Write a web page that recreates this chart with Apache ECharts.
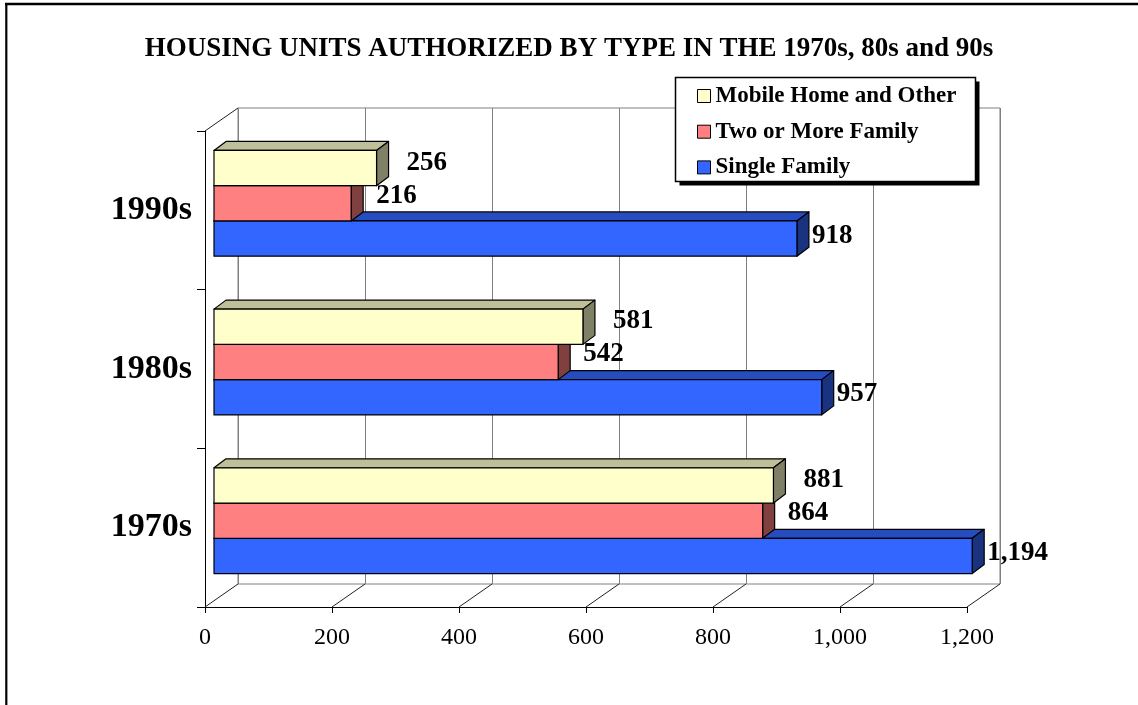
<!DOCTYPE html>
<html>
<head>
<meta charset="utf-8">
<title>Housing Units Authorized by Type</title>
<script src="https://cdn.jsdelivr.net/npm/echarts@6/dist/echarts.min.js"></script>
<style>
  html, body { margin: 0; padding: 0; background: #fff; }
  #main { width: 1138px; height: 705px; }
</style>
</head>
<body>
<div id="main"></div>
<script>
// Housing units authorized, by decade and type
const decades = ['1970s', '1980s', '1990s'];
const singleFamily = [1194, 957, 918];
const twoOrMoreFamily = [864, 542, 216];
const mobileHomeOther = [881, 581, 256];
const xTicks = [0, 200, 400, 600, 800, 1000, 1200];
const legendOrder = ['Mobile Home and Other', 'Two or More Family', 'Single Family'];

const SERIF = '"Liberation Serif", "Times New Roman", serif';
const WALL_DEPTH = [33, -23];   // offset from front plane to back wall
const BAR_SHIFT = [9, -7];      // bars sit slightly inside the box
const BAR_DEPTH = [12, -9];     // thickness of each 3D bar

function shade(hex, k) {
  const n = parseInt(hex.slice(1), 16);
  const r = Math.round(((n >> 16) & 255) * k);
  const g = Math.round(((n >> 8) & 255) * k);
  const b = Math.round((n & 255) * k);
  return 'rgb(' + r + ',' + g + ',' + b + ')';
}

// One 3D bar series: front face, top face, side face and value label
function barSeries(name, values, slot, color, label) {
  return {
    type: 'custom',
    name: name,
    coordinateSystem: 'cartesian2d',
    xAxisIndex: 0,
    yAxisIndex: 0,
    itemStyle: { color: color, borderColor: '#000', borderWidth: 1 },
    data: values.map((v, i) => [v, i]),
    renderItem: function (params, api) {
      const v = api.value(0);
      const ci = api.value(1);
      const p0 = api.coord([0, ci]);
      const p1 = api.coord([v, ci]);
      const band = api.size([0, 1])[1];
      const h = band * 0.2222;
      const cy = p0[1] + BAR_SHIFT[1] + slot * h;
      const x0 = p0[0] + BAR_SHIFT[0];
      const x1 = p1[0] + BAR_SHIFT[0];
      const t = cy - h / 2, b = cy + h / 2;
      const dx = BAR_DEPTH[0], dy = BAR_DEPTH[1];
      const edge = { stroke: '#000', lineWidth: 1.2, lineJoin: 'round' };
      return {
        type: 'group',
        children: [
          { type: 'polygon',
            shape: { points: [[x0, t], [x0 + dx, t + dy], [x1 + dx, t + dy], [x1, t]] },
            style: Object.assign({ fill: shade(color, 0.75) }, edge) },
          { type: 'polygon',
            shape: { points: [[x1, t], [x1 + dx, t + dy], [x1 + dx, b + dy], [x1, b]] },
            style: Object.assign({ fill: shade(color, 0.5) }, edge) },
          { type: 'rect',
            shape: { x: x0, y: t, width: x1 - x0, height: h },
            style: Object.assign({ fill: color }, edge) },
          { type: 'text',
            x: x1 + dx + label.gap,
            y: cy + label.dy,
            style: {
              text: v.toLocaleString('en-US'),
              fill: '#000',
              fontFamily: SERIF,
              fontWeight: 'bold',
              fontSize: 27,
              align: 'left',
              verticalAlign: 'middle'
            } }
        ]
      };
    }
  };
}

// Floor depth lines at every value tick, plus the top edge of the left wall
const floorSeries = {
  type: 'custom',
  coordinateSystem: 'cartesian2d',
  xAxisIndex: 0,
  yAxisIndex: 0,
  silent: true,
  z: 1,
  data: xTicks.map(v => [v, 0]),
  renderItem: function (params, api) {
    const cs = params.coordSys;
    const v = api.value(0);
    const x = api.coord([v, 0])[0];
    const yb = cs.y + cs.height;
    const kids = [{
      type: 'line',
      shape: { x1: x, y1: yb, x2: x + WALL_DEPTH[0], y2: yb + WALL_DEPTH[1] },
      style: { stroke: '#222', lineWidth: 1 }
    }];
    if (v === 0) {
      kids.push({
        type: 'line',
        shape: { x1: x, y1: cs.y, x2: x + WALL_DEPTH[0], y2: cs.y + WALL_DEPTH[1] },
        style: { stroke: '#222', lineWidth: 1 }
      });
    }
    return { type: 'group', children: kids };
  }
};

const chart = echarts.init(document.getElementById('main'), null, { renderer: 'canvas' });

chart.setOption({
  backgroundColor: '#fff',
  animation: false,
  title: {
    text: 'HOUSING UNITS AUTHORIZED BY TYPE IN THE 1970s, 80s and 90s',
    left: 'center',
    top: 31,
    textStyle: { fontFamily: SERIF, fontWeight: 'bold', fontSize: 27, color: '#000' }
  },
  legend: {
    data: legendOrder,
    orient: 'vertical',
    left: 697,
    top: 84,
    padding: 0,
    itemWidth: 13,
    itemHeight: 13,
    itemGap: 11.7,
    icon: 'rect',
    selectedMode: false,
    z: 10,
    itemStyle: { borderColor: '#000', borderWidth: 1 },
    textStyle: { fontFamily: SERIF, fontWeight: 'bold', fontSize: 23, color: '#000', lineHeight: 24 }
  },
  graphic: [
    { type: 'line', z: 20, shape: { x1: 5, y1: 4, x2: 1138, y2: 4 }, style: { stroke: '#000', lineWidth: 2.5 } },
    { type: 'line', z: 20, shape: { x1: 6.3, y1: 3, x2: 6.3, y2: 705 }, style: { stroke: '#000', lineWidth: 2.2 } },
    // legend frame: drop shadow then the white box
    { type: 'rect', z: 8, shape: { x: 679.5, y: 81.5, width: 300, height: 104 },
      style: { fill: '#000' } },
    { type: 'rect', z: 8, shape: { x: 675.5, y: 77.5, width: 300, height: 104 },
      style: { fill: '#fff', stroke: '#000', lineWidth: 1.5 } }
  ],
  grid: [
    { left: 205, top: 131, width: 762, height: 476, containLabel: false },
    { left: 238, top: 108, width: 762, height: 476, containLabel: false,
      show: true, borderColor: '#808080', borderWidth: 1, backgroundColor: 'transparent' }
  ],
  xAxis: [
    {
      type: 'value', gridIndex: 0, min: 0, max: 1200, interval: 200,
      axisLine: { show: true, lineStyle: { color: '#000', width: 1 } },
      axisTick: { show: true, length: 6, lineStyle: { color: '#000' } },
      splitLine: { show: false },
      axisLabel: {
        margin: 19, color: '#000', fontFamily: SERIF, fontSize: 24,
        formatter: v => v.toLocaleString('en-US')
      }
    },
    {
      type: 'value', gridIndex: 1, min: 0, max: 1200, interval: 200,
      axisLine: { show: false }, axisTick: { show: false }, axisLabel: { show: false },
      splitLine: { show: true, lineStyle: { color: '#808080', width: 1 } }
    }
  ],
  yAxis: [
    {
      type: 'category', gridIndex: 0, data: decades,
      axisLine: { show: true, lineStyle: { color: '#000', width: 1 } },
      axisTick: { show: true, length: 8, lineStyle: { color: '#000' } },
      splitLine: { show: false },
      axisLabel: { margin: 13, color: '#000', fontFamily: SERIF, fontWeight: 'bold', fontSize: 34 }
    },
    {
      type: 'category', gridIndex: 1, data: decades,
      axisLine: { show: false }, axisTick: { show: false }, axisLabel: { show: false },
      splitLine: { show: false }
    }
  ],
  series: [
    floorSeries,
    barSeries('Single Family', singleFamily, 1, '#3366FF', { gap: 3, dy: -3 }),
    barSeries('Two or More Family', twoOrMoreFamily, 0, '#FF8080', { gap: 13, dy: -7.5 }),
    barSeries('Mobile Home and Other', mobileHomeOther, -1, '#FFFFCC', { gap: 18, dy: -5.5 })
  ]
});
</script>
</body>
</html>
